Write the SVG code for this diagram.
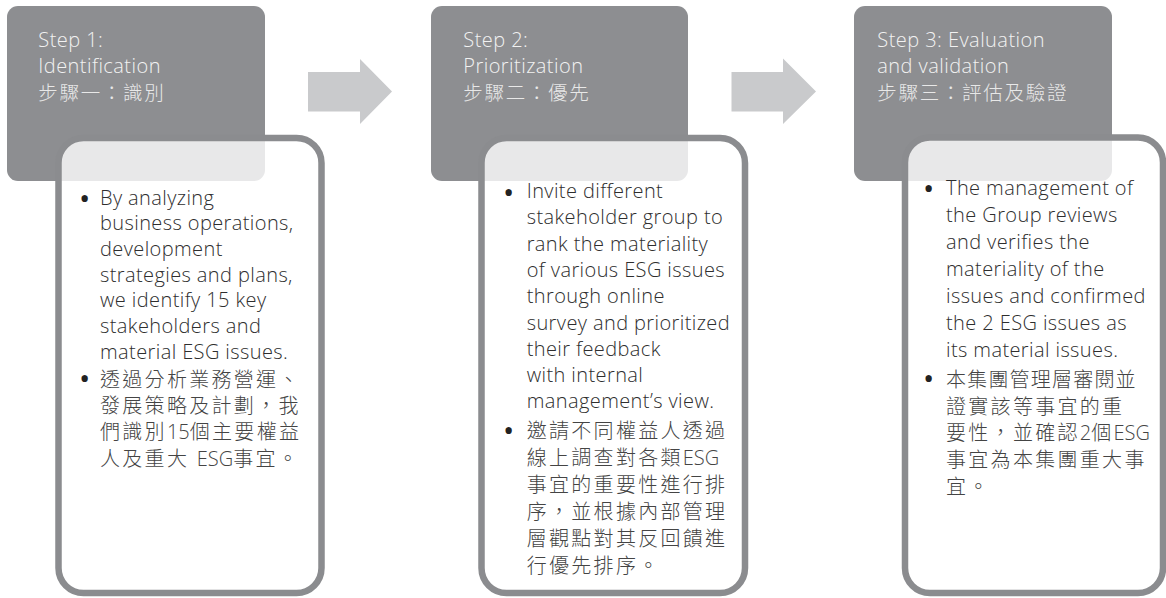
<svg xmlns="http://www.w3.org/2000/svg" width="1166" height="598" viewBox="0 0 1166 598">
<style>
.hdr{fill:#8d8e91}
.card{fill:#ffffff;fill-opacity:0.8;stroke:#8b8c8f;stroke-width:6.5}
.arrow{fill:#c9cacc}
.ht{font-family:"Open Sans","Noto Sans CJK TC",sans-serif;font-size:20px;font-weight:300;letter-spacing:0.45px;fill:#f2f2f2}
.hz{font-family:"Open Sans","Noto Sans CJK TC",sans-serif;font-size:19.5px;font-weight:300;fill:#e8e8e8;letter-spacing:1.7px}
.bt{font-family:"Open Sans","Noto Sans CJK TC",sans-serif;font-size:20px;font-weight:300;letter-spacing:0.4px;fill:#2e2e2e}
.bz{font-family:"Open Sans","Noto Sans CJK TC",sans-serif;font-size:20px;font-weight:300;fill:#444444;letter-spacing:2.3px}
.lat{letter-spacing:0px}
.bul{font-family:"Open Sans",sans-serif;font-size:30px;fill:#222222}
</style>
<g id="step1-header"><rect class="hdr" x="7" y="6" width="258" height="175" rx="11"/></g>
<g id="step2-header"><rect class="hdr" x="431" y="6" width="257" height="175" rx="11"/></g>
<g id="step3-header"><rect class="hdr" x="854" y="6" width="258" height="175" rx="11"/></g>
<g id="connectors">
<polygon class="arrow" points="308,72 360,72 360,59 392,91.5 360,124 360,111.5 308,111.5"/>
<polygon class="arrow" points="731.5,72 783,72 783,58.5 816,91.5 783,124 783,111.5 731.5,111.5"/>
</g>
<g id="step1">
<rect class="card" x="58.5" y="138" width="263" height="455" rx="25"/>
<text class="ht" x="38.3" y="46.7">Step 1:</text>
<text class="ht" x="38.3" y="73.3">Identification</text>
<text class="hz" x="38.3" y="100">步驟一：識別</text>
<text class="bul" x="79" y="209">•</text>
<text class="bt" x="100" y="204.5">By analyzing</text>
<text class="bt" x="100" y="230.2">business operations,</text>
<text class="bt" x="100" y="255.9">development</text>
<text class="bt" x="100" y="281.6">strategies and plans,</text>
<text class="bt" x="100" y="307.3">we identify 15 key</text>
<text class="bt" x="100" y="333">stakeholders and</text>
<text class="bt" x="100" y="358.7">material ESG issues.</text>
<text class="bul" x="79" y="389">•</text>
<text class="bz" x="100" y="386.6">透過分析業務營運、</text>
<text class="bz" x="100" y="413">發展策略及計劃，我</text>
<text class="bz" x="100" y="439.4">們識別<tspan class="lat">15</tspan>個主要權益</text>
<text class="bz" x="100" y="465.8">人及重大 <tspan class="lat">ESG</tspan>事宜。</text>
</g>
<g id="step2">
<rect class="card" x="481.5" y="138" width="263.5" height="455" rx="25"/>
<text class="ht" x="463.3" y="46.7">Step 2:</text>
<text class="ht" x="463.3" y="73.3">Prioritization</text>
<text class="hz" x="463.3" y="100">步驟二：優先</text>
<text class="bul" x="503" y="202.5">•</text>
<text class="bt" x="526.7" y="198">Invite different</text>
<text class="bt" x="526.7" y="224.3">stakeholder group to</text>
<text class="bt" x="526.7" y="250.6">rank the materiality</text>
<text class="bt" x="526.7" y="276.9">of various ESG issues</text>
<text class="bt" x="526.7" y="303.2">through online</text>
<text class="bt" x="526.7" y="329.5">survey and prioritized</text>
<text class="bt" x="526.7" y="355.8">their feedback</text>
<text class="bt" x="526.7" y="382.1">with internal</text>
<text class="bt" x="526.7" y="408.4">management’s view.</text>
<text class="bul" x="503" y="440.7">•</text>
<text class="bz" x="526.7" y="438.3">邀請不同權益人透過</text>
<text class="bz" x="526.7" y="465.2">線上調查對各類<tspan class="lat">ESG</tspan></text>
<text class="bz" x="526.7" y="492.1">事宜的重要性進行排</text>
<text class="bz" x="526.7" y="519">序，並根據內部管理</text>
<text class="bz" x="526.7" y="545.9">層觀點對其反回饋進</text>
<text class="bz" x="526.7" y="572.8">行優先排序。</text>
</g>
<g id="step3">
<rect class="card" x="905" y="137.5" width="258" height="455.5" rx="25"/>
<text class="ht" x="877.3" y="46.7">Step 3: Evaluation</text>
<text class="ht" x="877.3" y="73.3">and validation</text>
<text class="hz" x="877.3" y="100">步驟三：評估及驗證</text>
<text class="bul" x="923" y="199.2">•</text>
<text class="bt" x="946" y="194.7">The management of</text>
<text class="bt" x="946" y="221.8">the Group reviews</text>
<text class="bt" x="946" y="248.8">and verifies the</text>
<text class="bt" x="946" y="275.9">materiality of the</text>
<text class="bt" x="946" y="303">issues and confirmed</text>
<text class="bt" x="946" y="330">the 2 ESG issues as</text>
<text class="bt" x="946" y="357.1">its material issues.</text>
<text class="bul" x="923" y="389">•</text>
<text class="bz" x="946" y="386.6" style="letter-spacing:1.2px">本集團管理層審閱並</text>
<text class="bz" x="946" y="413.5">證實該等事宜的重</text>
<text class="bz" x="946" y="440.4">要性，並確認<tspan class="lat">2</tspan>個<tspan class="lat">ESG</tspan></text>
<text class="bz" x="946" y="467.3">事宜為本集團重大事</text>
<text class="bz" x="946" y="494.2">宜。</text>
</g>
</svg>
